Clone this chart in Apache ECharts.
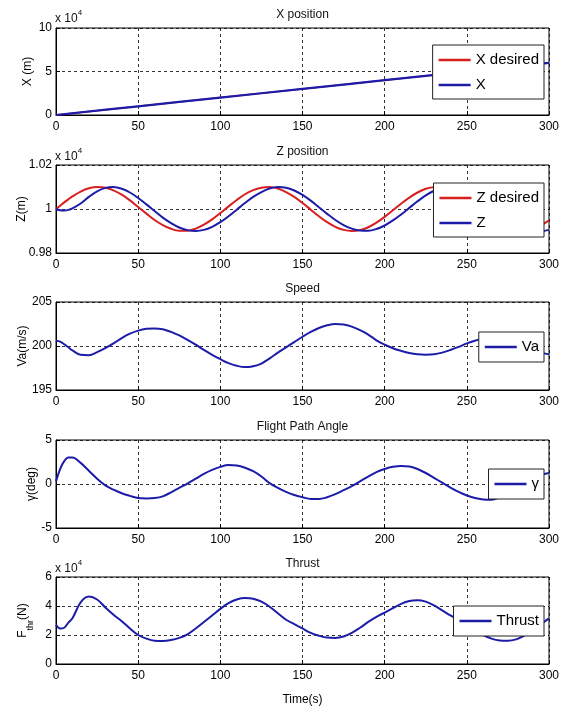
<!DOCTYPE html>
<html>
<head>
<meta charset="utf-8">
<script src="https://cdn.jsdelivr.net/npm/echarts@6/dist/echarts.min.js"></script>
<style>html,body{margin:0;padding:0;background:#fff;}#c{width:572px;height:711px;}</style>
</head>
<body>
<div id="c"></div>
<script>
// ---------- data ----------
const xTime = [0, 50, 100, 150, 200, 250, 300];
const xDesired = [0, 10000, 20000, 30000, 40000, 50000, 60000];
const xActual = [0, 10000, 20000, 30000, 40000, 50000, 60000];

const time = [0, 2.5, 5, 7.5, 10, 15, 20, 25, 30, 35, 40, 45, 50, 55, 60, 65, 70, 75, 80, 85, 90, 95,
  100, 105, 110, 115, 120, 125, 130, 135, 140, 145, 150, 155, 160, 165, 170, 175, 180, 185, 190, 195,
  200, 205, 210, 215, 220, 225, 230, 235, 240, 245, 250, 255, 260, 265, 270, 275, 280, 285, 290, 295, 300];

const zDesired = [10000, 10015, 10030, 10044, 10057, 10079, 10094, 10100, 10097, 10085, 10065, 10039, 10009,
  9979, 9950, 9927, 9910, 9901, 9901, 9911, 9929, 9953, 9982, 10012, 10041, 10067, 10086, 10097, 10100,
  10093, 10077, 10055, 10027, 9997, 9967, 9940, 9919, 9905, 9900, 9904, 9917, 9938, 9964, 9994, 10024,
  10052, 10075, 10092, 10099, 10098, 10088, 10069, 10044, 10015, 9985, 9956, 9931, 9912, 9902, 9901,
  9908, 9925, 9948];

const zActual = [10000, 9994, 9993, 9996, 10003, 10025, 10055, 10080, 10096, 10100, 10092, 10075, 10050,
  10021, 9991, 9961, 9936, 9916, 9904, 9900, 9905, 9919, 9940, 9967, 9997, 10027, 10055, 10077, 10093,
  10100, 10097, 10084, 10064, 10038, 10008, 9978, 9950, 9927, 9911, 9902, 9901, 9909, 9925, 9948, 9975,
  10005, 10035, 10062, 10083, 10096, 10100, 10095, 10080, 10058, 10030, 10000, 9970, 9944, 9923, 9908,
  9901, 9899, 9905];

const speed = [200.6, 200.5, 200.2, 199.85, 199.5, 199.0, 198.95, 199.3, 199.75, 200.3, 200.9, 201.4, 201.75,
  201.95, 202.0, 201.9, 201.6, 201.2, 200.7, 200.15, 199.55, 199.0, 198.5, 198.05, 197.75, 197.6, 197.7,
  198.0, 198.6, 199.25, 199.85, 200.45, 201.05, 201.6, 202.05, 202.35, 202.5, 202.45, 202.2, 201.8, 201.3,
  200.65, 200.15, 199.75, 199.45, 199.2, 199.05, 199.0, 199.05, 199.25, 199.55, 199.9, 200.3, 200.6,
  200.85, 200.9, 200.75, 200.5, 200.15, 199.8, 199.5, 199.25, 199.05];

const gamma = [0.3, 1.7, 2.6, 3.0, 3.0, 2.4, 1.5, 0.6, -0.15, -0.65, -1.05, -1.35, -1.6, -1.65, -1.6, -1.4,
  -0.95, -0.45, 0.05, 0.6, 1.15, 1.6, 1.95, 2.15, 2.1, 1.85, 1.45, 0.85, 0.1, -0.45, -0.9, -1.25, -1.5,
  -1.7, -1.7, -1.5, -1.15, -0.7, -0.25, 0.3, 0.85, 1.35, 1.7, 1.95, 2.05, 2.0, 1.7, 1.25, 0.7, 0.15,
  -0.4, -0.9, -1.3, -1.6, -1.75, -1.8, -1.5, -1.0, -0.4, 0.2, 0.7, 1.05, 1.25];

const thrust = [27000, 24500, 25000, 28500, 31500, 42500, 46500, 44500, 39000, 34000, 29500, 24500, 20000,
  17500, 16000, 15800, 16500, 18000, 20500, 24500, 29000, 33500, 38000, 42000, 44500, 45500, 45000, 43000,
  39500, 35000, 30500, 27500, 24500, 21500, 19500, 18200, 18000, 19000, 21500, 25000, 29000, 32500, 35500,
  38500, 41500, 43500, 44000, 43000, 40500, 37000, 33500, 30500, 27000, 23500, 20000, 17500, 16200, 16000,
  17000, 19500, 23500, 27500, 31500];

const panelTitles = ['X position', 'Z position', 'Speed', 'Flight Path Angle', 'Thrust'];
const yMin = [0, 9800, 195, -5, 0];
const yMax = [100000, 10200, 205, 5, 60000];
const yStep = [50000, 200, 5, 5, 20000];
const yScale = [1e4, 1e4, 1, 1, 1e4];

// ---------- layout / style ----------
const RED = '#d81e1e', BLUE = '#1c1ca8';
const FONT = "'Liberation Sans', Arial, sans-serif";
const tops = [28, 165, 302, 440, 577];
const heights = [87, 88, 88, 88, 87];
const PL = 56, PR = 549;
const nameGaps = [22, 28, 27, 18, 21];
const yNames = ['X (m)', 'Z(m)', 'Va(m/s)', 'γ(deg)', '{a|F}{b|thr}{a|(N)}'];

function pairs(t, v) { return t.map((x, i) => [x, v[i]]); }

const grids = tops.map((t, i) => ({
  left: PL, width: PR - PL, top: t, height: heights[i],
  outerBoundsMode: 'none', containLabel: false,
  show: true, borderColor: '#000', borderWidth: 1, backgroundColor: '#fff'
}));

const gridLine = { show: true, lineStyle: { color: '#000', type: [3, 3], width: 0.8 } };

const xAxes = tops.map((t, i) => ({
  type: 'value', gridIndex: i, min: 0, max: 300, interval: 50,
  axisLine: { show: true, onZero: false, lineStyle: { color: '#000', width: 1 } },
  axisTick: { show: true, inside: true, length: 4, lineStyle: { color: '#000' } },
  axisLabel: { color: '#000', fontSize: 12, fontFamily: FONT, margin: 6 },
  splitLine: gridLine,
  name: i === 4 ? 'Time(s)' : '', nameLocation: 'middle', nameGap: 30,
  nameTextStyle: { color: '#000', fontSize: 12, fontFamily: FONT }
}));

const yAxes = tops.map((t, i) => ({
  type: 'value', gridIndex: i, min: yMin[i], max: yMax[i], interval: yStep[i],
  axisLine: { show: true, lineStyle: { color: '#000', width: 1 } },
  axisTick: { show: true, inside: true, length: 4, lineStyle: { color: '#000' } },
  axisLabel: {
    color: '#000', fontSize: 12, fontFamily: FONT, margin: 4,
    formatter: v => String(Math.round(v / yScale[i] * 1000) / 1000)
  },
  splitLine: gridLine,
  name: yNames[i], nameLocation: 'middle', nameGap: nameGaps[i], nameMoveOverlap: false,
  nameTextStyle: {
    color: '#000', fontSize: 12, fontFamily: FONT,
    rich: {
      a: { fontSize: 12, fontFamily: FONT, color: '#000', lineHeight: 18, verticalAlign: 'top' },
      b: { fontSize: 9, fontFamily: FONT, color: '#000', lineHeight: 18, verticalAlign: 'bottom' }
    }
  }
}));

const titles = panelTitles.map((s, i) => ({
  text: s, left: (PL + PR) / 2, top: tops[i] - 19, textAlign: 'center', padding: 0,
  textStyle: { fontSize: 12, fontWeight: 'normal', color: '#111', fontFamily: FONT }
}));
[0, 1, 4].forEach(i => {
  titles.push({
    text: '{a|x 10}{b|4}', left: PL - 1, top: tops[i] - (i === 0 ? 19 : 18), padding: 0,
    textStyle: {
      fontWeight: 'normal',
      rich: {
        a: { fontSize: 12, fontWeight: 'normal', fontFamily: FONT, color: '#111', lineHeight: 16, verticalAlign: 'bottom' },
        b: { fontSize: 8, fontWeight: 'normal', fontFamily: FONT, color: '#111', lineHeight: 16, verticalAlign: 'top' }
      }
    }
  });
});

function legend(names, top, two) {
  return {
    data: names.map(n => ({ name: n, icon: 'path://M0 0H32V2.6H0Z' })),
    orient: 'vertical', right: 28, top: top,
    itemWidth: 32, itemHeight: 16, itemGap: 9,
    padding: two ? [7, 5, 6, 6] : [7, 5, 7, 6],
    backgroundColor: '#fff', borderColor: '#222', borderWidth: 1, borderRadius: 0,
    textStyle: { fontSize: 15, fontFamily: FONT, color: '#000', lineHeight: 16 },
    selectedMode: false
  };
}

const lineS = (name, gi, data, color, w) => ({
  name, type: 'line', xAxisIndex: gi, yAxisIndex: gi, data, smooth: 0.35,
  symbol: 'none', lineStyle: { color, width: w || 2 }, itemStyle: { color }, z: 3
});

const option = {
  animation: false,
  backgroundColor: '#fff',
  title: titles,
  grid: grids,
  xAxis: xAxes,
  yAxis: yAxes,
  legend: [
    legend(['X desired', 'X'], 45, true),
    legend(['Z desired', 'Z'], 183, true),
    legend(['Va'], 332, false),
    legend(['γ'], 469, false),
    legend(['Thrust'], 606, false)
  ],
  series: [
    lineS('X desired', 0, pairs(xTime, xDesired), RED, 1.5),
    lineS('X', 0, pairs(xTime, xActual), BLUE, 2.2),
    lineS('Z desired', 1, pairs(time, zDesired), RED),
    lineS('Z', 1, pairs(time, zActual), BLUE),
    lineS('Va', 2, pairs(time, speed), BLUE),
    lineS('γ', 3, pairs(time, gamma), BLUE),
    lineS('Thrust', 4, pairs(time, thrust), BLUE)
  ]
};

const chart = echarts.init(document.getElementById('c'), null, { renderer: 'canvas' });
chart.setOption(option);
</script>
</body>
</html>
